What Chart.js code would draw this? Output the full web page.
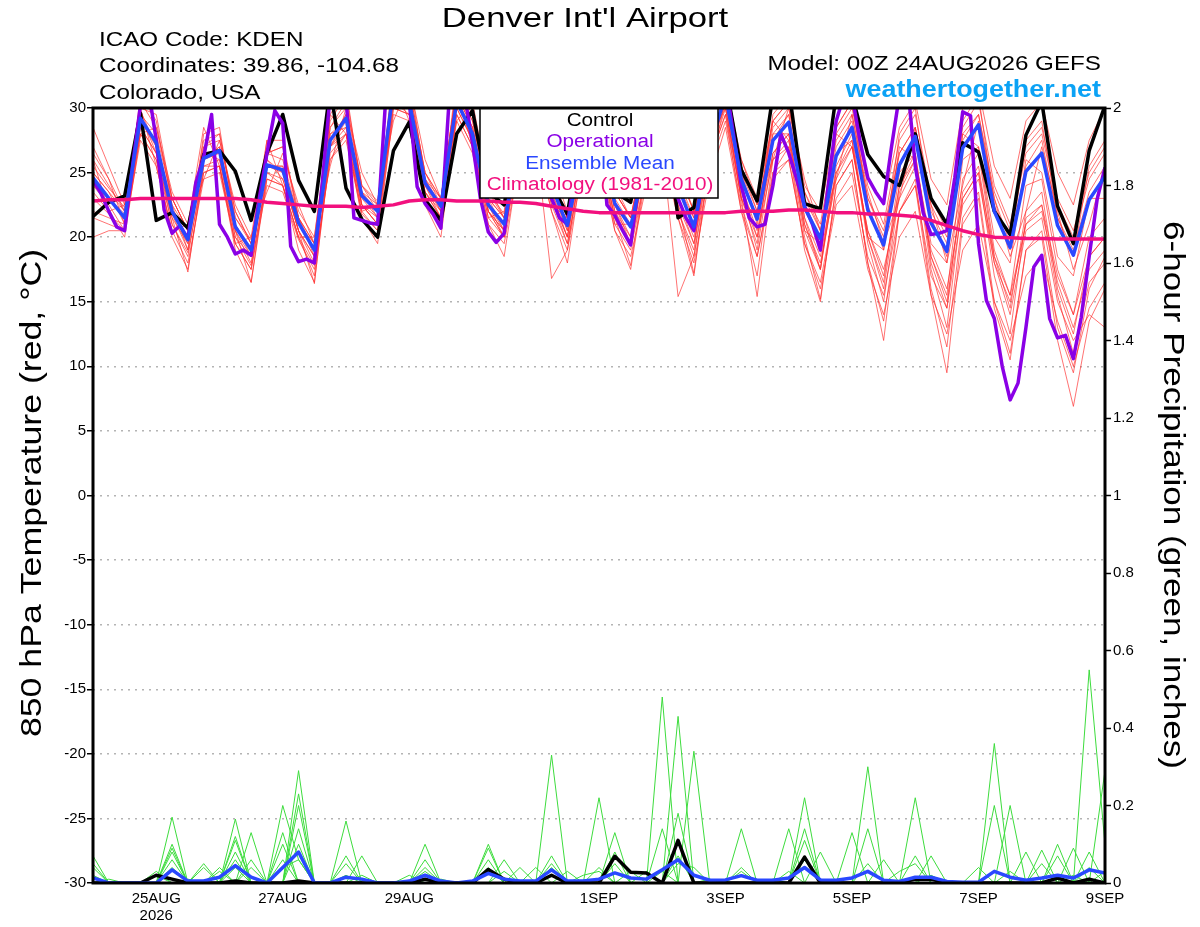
<!DOCTYPE html>
<html>
<head>
<meta charset="utf-8">
<title>Denver Int'l Airport - GEFS meteogram</title>
<script src="https://cdn.jsdelivr.net/npm/chart.js@4.4.1/dist/chart.umd.min.js"></script>
<style>
  html, body { margin: 0; padding: 0; background: #fff; }
  #wrap { width: 1200px; height: 927px; }
</style>
</head>
<body>
<div id="wrap"><canvas id="myChart" width="1200" height="927"></canvas></div>
<script>
'use strict'

// time steps: ensemble every 6 h, operational run every 3 h (hours after 00Z 24AUG2026)
const stepHours = 6;
const opStepHours = 3;

// x axis labels (hour of forecast -> label)
const xTickHours = [24, 72, 120, 192, 240, 288, 336, 384];
const xTickLabels = [['25AUG', '2026'], '27AUG', '29AUG', '1SEP', '3SEP', '5SEP', '7SEP', '9SEP'];
const tempTicks = [-30, -25, -20, -15, -10, -5, 0, 5, 10, 15, 20, 25, 30];
const precipTicks = [0, 0.2, 0.4, 0.6, 0.8, 1, 1.2, 1.4, 1.6, 1.8, 2];

// legend text
const legendItems = ['Control', 'Operational', 'Ensemble Mean', 'Climatology (1981-2010)'];

// 850 hPa temperature, deg C, every 6 h
const controlTemp = [21.6,22.7,23.2,29.6, 21.3,21.9,20.7,26.4, 26.7,25.1,21.3,26.5, 29.5,24.4,22.0,31.5, 23.8,21.4,20.0,26.7, 28.9,22.9,21.3,28.0, 29.8,23.5,22.5,29.0, 31.0,24.0,21.8,29.0, 28.0,23.5,22.7,29.0, 31.0,21.5,22.3,30.5, 32.0,25.2,22.8,31.0, 31.5,22.6,22.2,31.0, 31.0,26.4,24.7,24.0, 28.0,23.0,21.0,27.3, 26.6,22.0,20.2,27.9, 30.5,22.4,19.5,26.7, 30.2];
const meanTemp = [24.6,23.0,21.5,29.2, 27.3,22.0,19.8,26.1, 26.7,20.8,19.0,25.6, 25.2,21.1,19.0,27.5, 29.2,23.2,22.0,31.5, 30.5,24.2,22.4,30.5, 28.0,22.5,21.0,27.5, 28.5,24.0,20.9,27.0, 28.0,22.6,20.8,26.2, 28.5,23.9,20.8,27.0, 31.0,24.5,21.4,27.5, 28.9,22.3,19.9,26.3, 28.5,22.1,19.4,25.6, 27.8,21.1,18.9,26.9, 28.7,22.0,19.2,25.1, 26.5,20.9,18.6,22.9, 24.7];
const climoTemp = [22.8,22.9,22.9,23.0, 23.0,23.0,23.0,23.0, 23.0,23.0,22.9,22.7, 22.6,22.5,22.4,22.4, 22.4,22.3,22.4,22.5, 22.8,22.9,22.9,22.8, 22.8,22.8,22.7,22.7, 22.6,22.4,22.2,22.0, 21.9,21.9,21.9,21.9, 21.9,21.9,21.9,21.9, 21.9,22.0,22.0,22.0, 22.1,22.1,22.0,21.9, 21.9,21.8,21.8,21.7, 21.6,21.3,20.9,20.5, 20.2,20.0,19.95,19.9, 19.9,19.85,19.85,19.85, 19.85];

// operational run, every 3 h
const opTemp = [24.4,23.4,22.0,20.8,20.5,25.5,30.2,31.5, 27.5,22.1,20.3,20.9,19.9,24.2,26.2,29.5, 21.0,20.0,18.7,19.0,18.6,22.9,26.5,29.8, 28.8,19.3,18.1,18.3,18.0,24.2,31.0,32.0, 31.0,21.5,21.3,21.1,21.0,30.5,32.0,32.0, 30.5,23.9,22.6,21.8,20.7,30.2,32.0,31.0, 27.3,23.0,20.4,19.6,20.3,25.0,29.0,31.0, 31.0,27.0,23.0,21.5,21.0,25.0,29.0,31.0, 30.0,22.5,21.7,20.5,19.4,24.0,29.0,31.0, 31.0,26.0,23.0,21.5,20.5,24.0,29.0,31.0, 32.0,28.0,24.0,21.5,20.8,21.0,24.0,28.0, 26.5,24.5,22.4,21.0,19.0,24.0,29.0,31.0, 31.0,27.5,24.6,23.5,22.6,27.0,31.0,32.0, 25.5,21.9,20.2,20.3,20.5,24.6,29.7,29.4, 19.5,15.1,13.7,10.0,7.4,8.7,13.0,17.7, 18.6,13.7,12.2,12.4,10.6,13.8,18.5,22.9, 25.4];

// ensemble members (red), every 6 h
const member01 = [25.5,23.8,22.3,30.5, 28.5,23.0,20.5,27.5, 28.0,21.5,19.8,26.5, 27.0,22.0,20.0,29.0, 31.0,24.0,22.8,32.0, 31.5,25.0,23.0,31.5, 29.5,23.5,21.8,29.0, 30.0,25.0,21.5,28.5, 29.5,23.5,21.5,27.5, 30.0,25.0,22.0,28.5, 32.0,25.5,22.5,29.0, 30.5,23.5,21.0,28.0, 30.0,24.0,21.0,27.5, 29.5,23.0,20.5,28.5, 30.5,24.0,21.0,27.0, 28.5,23.0,20.5,25.0, 27.0];
const member02 = [23.0,21.8,20.5,27.5, 25.5,20.5,18.0,24.5, 25.0,19.5,17.5,24.0, 23.5,19.8,17.5,26.0, 27.5,21.8,20.5,29.5, 29.0,22.5,21.0,29.0, 26.5,21.0,19.5,26.0, 27.0,22.0,19.0,25.5, 26.0,20.5,18.5,24.0, 26.5,21.5,18.0,24.5, 28.5,22.0,18.5,24.5, 26.0,19.5,16.5,23.0, 25.0,18.5,15.5,22.0, 24.0,17.0,14.5,22.5, 24.5,18.0,15.0,21.0, 22.5,17.0,14.0,18.5, 20.0];
const member03 = [26.5,24.5,22.0,28.0, 28.5,23.5,21.0,24.5, 27.5,22.5,20.0,23.5, 26.5,22.5,19.5,25.5, 30.0,25.0,22.5,29.0, 32.0,26.0,23.0,29.0, 30.5,24.0,21.5,26.0, 29.5,25.5,22.0,25.0, 29.0,24.0,21.5,24.5, 29.5,25.5,22.0,25.5, 30.5,26.0,22.5,26.0, 30.0,24.5,20.5,24.5, 29.5,23.5,19.5,23.0, 28.5,22.5,18.0,24.0, 29.0,23.0,18.5,22.0, 27.0,22.0,17.5,21.0, 25.5];
const member04 = [22.0,21.5,21.0,29.5, 26.5,21.5,19.5,26.5, 26.0,20.0,18.5,26.0, 24.5,20.5,18.5,28.0, 28.5,22.5,21.5,31.0, 30.0,23.5,22.0,30.5, 27.5,22.0,20.5,28.0, 28.0,23.0,20.0,27.5, 27.0,21.5,19.5,26.5, 27.5,22.0,19.0,27.5, 30.0,23.0,19.5,28.0, 28.0,20.5,17.5,26.5, 27.5,20.0,16.5,25.0, 26.5,18.5,15.5,26.0, 27.0,19.0,15.5,24.0, 24.5,17.5,14.0,20.0, 21.5];
const member05 = [27.0,24.5,21.0,31.0, 29.0,22.5,19.0,28.0, 28.5,21.0,18.5,27.5, 27.5,21.5,18.5,29.5, 31.5,23.5,21.5,33.0, 32.5,24.5,22.0,32.5, 30.0,22.5,20.5,29.5, 30.5,24.0,20.5,29.0, 30.0,22.5,20.0,28.5, 30.5,24.0,20.5,29.0, 32.5,25.0,21.0,29.5, 31.0,22.5,19.5,28.5, 30.5,22.5,19.0,28.0, 30.0,21.5,18.5,29.0, 31.0,22.5,19.0,27.5, 29.0,21.5,18.5,25.5, 27.5];
const member06 = [24.0,22.5,20.5,28.5, 26.5,21.0,18.5,25.5, 25.5,19.5,17.5,25.0, 24.0,20.0,17.0,27.0, 28.0,22.0,20.5,30.5, 29.5,23.0,21.0,30.0, 27.5,21.5,20.0,27.0, 27.5,22.5,19.5,26.0, 26.5,21.0,19.0,25.0, 27.0,22.0,18.5,25.5, 29.0,22.5,18.5,25.0, 26.0,19.5,16.0,22.5, 24.0,17.5,14.0,20.0, 22.0,15.5,12.5,19.0, 21.0,15.0,12.0,17.0, 18.5,13.5,10.0,14.5, 16.5];
const member07 = [25.0,23.5,22.0,29.0, 27.5,22.5,20.5,26.0, 27.0,21.5,19.5,25.5, 25.5,21.5,19.5,27.0, 29.5,23.5,22.5,31.0, 30.5,24.5,23.0,30.5, 28.5,23.0,21.5,27.5, 29.0,24.5,21.5,27.0, 28.5,23.0,21.0,26.5, 29.0,24.0,21.5,27.5, 31.0,25.0,22.0,28.0, 29.5,23.0,20.5,27.0, 29.0,23.0,20.5,26.5, 28.5,22.5,20.0,28.0, 29.5,23.5,20.5,26.5, 28.0,22.5,20.0,24.5, 26.5];
const member08 = [23.5,22.0,20.0,28.0, 26.0,20.0,17.5,25.0, 25.5,19.0,16.5,24.5, 24.0,19.0,16.5,26.5, 28.0,21.5,19.5,30.0, 29.5,22.5,20.0,29.5, 27.0,21.0,18.5,26.5, 27.5,22.0,18.0,26.0, 27.0,20.5,17.5,25.0, 27.5,21.5,17.0,26.0, 29.5,22.0,17.0,26.0, 27.0,19.0,15.0,24.0, 26.0,18.0,13.5,22.0, 24.5,16.0,11.5,21.5, 23.5,15.0,11.0,19.0, 20.5,13.0,9.5,16.0, 18.5];
const member09 = [26.0,22.0,22.5,30.0, 25.5,20.5,21.0,28.5, 25.5,19.5,20.0,27.5, 24.0,20.0,20.0,29.5, 28.0,22.0,22.5,32.0, 29.0,23.0,23.0,31.5, 27.0,21.5,22.0,29.5, 27.5,22.5,21.5,29.0, 27.0,21.0,21.0,28.0, 27.5,22.0,21.0,29.0, 30.0,23.0,21.5,29.0, 27.5,20.5,19.5,28.0, 27.0,20.0,19.0,27.0, 26.0,19.5,18.0,28.0, 27.0,20.0,18.0,26.0, 25.0,18.5,17.0,23.0, 23.0];
const member10 = [24.0,23.0,21.8,29.8, 27.0,21.8,19.0,26.5, 26.5,20.5,18.0,26.0, 25.0,20.5,18.0,28.0, 29.0,22.5,21.0,31.5, 31.0,24.0,21.5,31.0, 28.5,22.0,20.0,28.0, 29.0,23.5,20.0,27.5, 28.5,22.0,19.5,26.5, 29.0,23.0,19.5,27.0, 31.5,24.0,20.0,27.5, 29.5,21.5,17.5,25.5, 28.0,20.0,16.0,24.0, 26.5,18.0,14.5,24.5, 26.5,18.5,14.5,22.0, 23.5,16.0,12.5,18.5, 20.0];
const member11 = [25.0,23.5,21.0,29.0, 27.5,22.0,20.0,26.0, 27.0,21.0,19.0,25.5, 25.5,21.0,19.5,27.5, 29.5,23.5,22.0,31.5, 31.0,24.5,22.5,31.0, 28.5,23.0,21.5,28.0, 29.5,24.5,21.5,28.0, 29.0,23.5,21.5,27.5, 29.5,25.0,22.0,28.0, 32.0,26.0,23.0,29.0, 30.5,24.0,22.0,28.5, 30.5,24.5,22.5,28.5, 30.5,24.5,22.5,30.0, 31.5,25.5,23.0,29.0, 30.5,25.0,22.5,27.5, 30.0];
const member12 = [21.5,21.0,20.5,28.0, 26.0,21.0,18.8,25.0, 25.5,20.0,17.8,24.5, 24.0,20.0,17.8,26.0, 28.0,22.5,21.0,30.0, 29.5,23.5,21.5,29.5, 27.0,22.0,20.0,26.5, 27.5,23.0,19.5,26.0, 27.0,21.5,19.5,25.0, 27.5,22.5,19.5,26.0, 29.5,23.0,20.0,26.0, 27.5,21.0,18.0,24.5, 27.0,20.5,17.5,23.0, 25.5,19.0,16.0,23.0, 25.0,18.5,15.5,21.0, 22.0,16.5,13.0,17.5, 19.0];
const member13 = [28.5,25.5,22.5,30.0, 29.5,23.0,20.5,27.0, 28.0,22.0,19.5,26.5, 27.0,21.5,19.0,28.5, 30.5,24.0,22.0,32.0, 31.5,25.0,22.5,31.5, 29.0,23.0,20.5,28.0, 27.5,16.8,19.0,27.0, 28.5,22.5,19.5,26.0, 27.0,15.4,18.5,26.5, 30.5,23.0,15.4,25.0, 27.0,20.0,15.2,24.0, 26.0,18.0,12.0,22.0, 24.0,15.5,9.5,21.0, 23.0,14.5,10.5,19.0, 20.0,12.0,6.9,13.5, 16.0];
const member14 = [20.0,20.5,20.5,28.5, 26.5,21.5,17.3,25.5, 26.0,20.5,16.5,25.0, 24.5,20.5,16.4,27.0, 28.5,22.5,21.0,30.5, 30.0,23.5,21.5,30.0, 27.5,22.5,20.0,27.0, 28.0,23.0,20.0,26.5, 27.5,21.5,17.8,25.5, 28.0,22.5,17.2,26.0, 30.0,23.5,19.0,26.5, 28.0,21.0,17.5,25.0, 27.5,19.5,15.0,23.5, 26.0,17.5,13.0,23.0, 25.0,17.0,12.5,21.5, 22.5,15.5,11.0,16.5, 18.0];
const member15 = [26.0,24.0,22.0,29.5, 28.0,23.0,20.5,27.0, 27.5,22.0,19.5,26.5, 26.0,21.5,19.5,28.5, 30.0,24.0,22.5,32.0, 31.0,25.0,23.0,31.5, 29.0,23.5,21.5,28.5, 29.5,24.5,21.5,28.0, 29.0,23.5,21.5,27.0, 29.5,24.5,21.5,28.0, 31.5,25.5,22.0,28.5, 30.0,23.5,20.5,27.5, 29.5,23.0,20.0,26.5, 28.5,22.0,19.5,27.5, 29.5,23.0,19.5,25.5, 27.5,21.5,19.0,23.5, 25.5];
const member16 = [24.5,23.0,21.5,29.0, 27.0,22.0,19.5,26.0, 26.5,20.5,18.5,25.5, 25.0,20.5,18.5,27.0, 29.0,23.0,21.5,31.0, 30.5,24.0,22.0,30.5, 28.0,22.0,20.5,27.5, 28.5,23.5,20.5,27.0, 28.0,22.0,20.0,26.0, 28.0,23.0,20.0,26.5, 30.5,24.0,20.5,26.5, 28.0,21.5,18.5,25.0, 27.0,20.5,17.0,24.0, 26.0,18.5,15.0,23.5, 25.5,18.0,14.0,20.5, 21.5,15.0,12.0,14.0, 13.0];

// 6-hour precipitation, inches, every 6 h
const controlPrecip = [0,0,0,0, 0.02,0.01,0,0, 0,0.005,0,0, 0,0.005,0,0, 0,0,0,0, 0,0.01,0,0, 0,0.035,0.01,0, 0,0.02,0,0, 0,0.069,0.028,0.026, 0,0.11,0,0, 0,0,0,0, 0,0.067,0,0, 0,0,0,0, 0.01,0.01,0,0, 0,0,0,0, 0,0.013,0,0.01, 0];
const meanPrecip = [0.013,0,0,0, 0,0.034,0.005,0.005, 0.015,0.045,0.015,0, 0.04,0.08,0,0, 0.015,0.01,0,0, 0.005,0.02,0.005,0, 0.005,0.025,0.01,0.005, 0.005,0.034,0.005,0.005, 0.01,0.026,0.013,0.01, 0.034,0.06,0.02,0.007, 0.008,0.019,0.007,0.007, 0.013,0.04,0.008,0.007, 0.013,0.03,0.007,0.004, 0.015,0.015,0.004,0.002, 0.002,0.03,0.015,0.007, 0.013,0.02,0.013,0.034, 0.026];

// precip members (green)
const precip01 = [0.07,0,0,0, 0,0.17,0,0, 0,0.04,0,0, 0,0.29,0,0, 0.02,0,0,0, 0,0,0,0, 0,0,0,0, 0,0.33,0,0, 0,0,0,0, 0.48,0,0,0, 0,0,0,0, 0,0.06,0,0, 0,0,0,0, 0,0,0,0, 0,0.36,0,0, 0,0,0,0.55, 0.1];
const precip02 = [0.05,0,0,0, 0,0.1,0,0, 0,0.165,0,0, 0.2,0.06,0,0, 0,0,0,0, 0,0.1,0,0, 0,0,0,0, 0,0,0,0, 0.22,0,0,0, 0,0.43,0,0, 0,0,0,0, 0,0,0,0, 0,0.3,0,0, 0,0,0,0, 0,0,0.2,0, 0,0,0,0, 0.29];
const precip03 = [0,0,0,0, 0,0.09,0,0, 0,0,0.13,0, 0,0.23,0,0, 0.16,0,0,0, 0,0,0,0, 0,0.1,0,0, 0,0,0,0, 0,0.13,0,0, 0,0,0.34,0, 0,0,0,0, 0,0.22,0,0, 0,0,0,0, 0.22,0,0,0, 0,0.2,0,0, 0,0.1,0,0, 0];
const precip04 = [0.04,0,0,0, 0,0.08,0,0, 0,0.12,0,0, 0,0.2,0,0, 0,0.07,0,0, 0,0,0,0, 0,0,0.06,0, 0,0,0,0, 0,0,0,0, 0,0.18,0,0, 0,0.14,0,0, 0,0,0,0, 0.13,0,0,0, 0,0,0,0, 0,0,0,0, 0.085,0,0,0.08, 0];
const precip05 = [0,0,0,0, 0.02,0,0,0, 0,0.11,0,0, 0.13,0,0,0, 0,0,0,0, 0,0.06,0,0, 0,0.09,0,0, 0,0.07,0,0, 0,0,0,0, 0.14,0,0,0, 0,0,0,0, 0.14,0,0,0, 0,0.14,0,0, 0,0,0,0, 0,0,0,0, 0,0,0.09,0, 0];
const precip06 = [0,0,0,0, 0,0.06,0,0.05, 0,0,0,0, 0,0.14,0,0, 0.07,0,0,0, 0,0,0,0, 0,0.06,0,0, 0,0,0,0, 0,0.08,0,0, 0,0.07,0,0, 0,0,0,0, 0,0.14,0,0, 0,0,0,0, 0,0.07,0,0, 0,0,0.03,0, 0,0.07,0,0, 0];
const precip07 = [0,0,0,0, 0,0.04,0,0, 0.04,0,0.06,0, 0.1,0,0,0, 0,0,0,0, 0,0.04,0,0, 0,0,0,0, 0.04,0,0,0, 0.04,0,0,0, 0,0,0,0, 0,0,0,0, 0,0.11,0,0, 0,0,0.06,0, 0,0,0,0, 0,0,0,0.08, 0,0,0,0.04, 0];
const precip08 = [0.02,0,0,0, 0,0,0,0, 0,0.08,0,0, 0,0.1,0,0, 0,0.02,0,0, 0,0,0,0, 0,0,0,0.04, 0,0.05,0,0, 0,0.05,0,0, 0.03,0,0,0, 0,0,0,0, 0,0,0.08,0, 0,0,0,0, 0.07,0,0,0, 0,0,0,0, 0.05,0,0,0, 0];
const precip09 = [0,0.01,0,0, 0,0,0,0.04, 0,0,0.04,0, 0.06,0,0,0, 0,0,0,0, 0,0.03,0,0, 0,0,0.03,0, 0,0,0.03,0, 0,0,0,0.03, 0,0,0,0, 0,0.04,0,0, 0,0,0,0, 0,0.05,0,0, 0,0,0,0, 0.04,0,0,0, 0,0,0,0, 0.03];
const precip10 = [0,0,0,0, 0.03,0,0,0, 0,0.06,0,0, 0.04,0.06,0,0, 0,0,0,0, 0.02,0,0,0, 0,0.04,0,0, 0,0.04,0,0, 0,0,0.03,0, 0,0.05,0.04,0, 0,0.03,0,0, 0.03,0,0,0, 0,0,0,0.03, 0.05,0,0,0, 0,0,0,0, 0,0,0,0, 0];
const precip11 = [0,0,0,0, 0,0,0.01,0, 0.03,0,0,0, 0,0,0,0, 0.05,0,0,0, 0,0,0.01,0, 0,0,0,0, 0,0,0,0.02, 0.03,0,0,0, 0,0,0,0.01, 0,0,0,0.01, 0,0,0,0, 0,0,0,0, 0,0.02,0,0, 0,0,0,0, 0,0,0.02,0, 0];

const tempMembers = [member01, member02, member03, member04, member05, member06, member07, member08,
  member09, member10, member11, member12, member13, member14, member15, member16];
const precipMembers = [precip01, precip02, precip03, precip04, precip05, precip06, precip07, precip08,
  precip09, precip10, precip11];

// colours
const colorControl = '#000000';
const colorOp = '#8a00e6';
const colorMean = '#2a48ff';
const colorClimo = '#f2107e';
const colorMember = 'rgba(255,45,45,0.75)';
const colorPrecip = '#3ddc3d';
const legendColors = [colorControl, colorOp, colorMean, colorClimo];

const fontFamily = '"Liberation Sans", Arial, Helvetica, sans-serif';

// turns a value list into {x: hour, y: value} points
function toPoints(values, step) {
  return values.map((v, i) => ({ x: i * step, y: v }));
}

function lineSet(values, step, color, width, axis) {
  return {
    data: toPoints(values, step),
    borderColor: color,
    borderWidth: width,
    yAxisID: axis,
    pointRadius: 0,
    tension: 0,
    fill: false,
    clip: 0,
    borderJoinStyle: 'round'
  };
}

// the original lettering is wide, so text gets stretched horizontally a bit
function wideText(ctx, text, x, y, align, sx, angle) {
  ctx.save();
  ctx.translate(x, y);
  if (angle) ctx.rotate(angle);
  ctx.scale(sx, 1);
  ctx.textAlign = align;
  ctx.fillText(text, 0, 0);
  ctx.restore();
}

// datasets listed top-most first (chart.js paints index 0 last)
let datasets = [];
datasets.push(lineSet(climoTemp, stepHours, colorClimo, 3.5, 'y'));
datasets.push(lineSet(meanTemp, stepHours, colorMean, 3.5, 'y'));
datasets.push(lineSet(opTemp, opStepHours, colorOp, 3.5, 'y'));
datasets.push(lineSet(controlTemp, stepHours, colorControl, 3.5, 'y'));
datasets.push(lineSet(meanPrecip, stepHours, colorMean, 3.5, 'y1'));
datasets.push(lineSet(controlPrecip, stepHours, colorControl, 3.5, 'y1'));
for (let i = 0; i < precipMembers.length; i++) {
  datasets.push(lineSet(precipMembers[i], stepHours, colorPrecip, 1, 'y1'));
}
for (let i = 0; i < tempMembers.length; i++) {
  datasets.push(lineSet(tempMembers[i], stepHours, colorMember, 0.9, 'y'));
}

// legend box, frame and all the header texts
const decorPlugin = {
  id: 'decor',
  afterDatasetsDraw(chart) {
    const ctx = chart.ctx;
    const a = chart.chartArea;
    ctx.save();
    // legend
    ctx.fillStyle = '#ffffff';
    ctx.fillRect(480, a.top, 238, 90);
    ctx.strokeStyle = '#000';
    ctx.lineWidth = 1.5;
    ctx.strokeRect(480, a.top, 238, 90);
    ctx.font = '18px ' + fontFamily;
    ctx.textBaseline = 'middle';
    for (let i = 0; i < legendItems.length; i++) {
      ctx.fillStyle = legendColors[i];
      wideText(ctx, legendItems[i], 600, a.top + 13 + i * 21.4, 'center', 1.15);
    }
    // plot frame
    ctx.strokeStyle = '#000';
    ctx.lineWidth = 3;
    ctx.strokeRect(a.left, a.top, a.right - a.left, a.bottom - a.top);
    ctx.restore();
  },
  afterDraw(chart) {
    const ctx = chart.ctx;
    ctx.save();
    ctx.fillStyle = '#000';
    ctx.textBaseline = 'middle';

    ctx.font = '28px ' + fontFamily;
    wideText(ctx, "Denver Int'l Airport", 585, 19, 'center', 1.24);

    ctx.font = '20px ' + fontFamily;
    wideText(ctx, 'ICAO Code: KDEN', 99, 40, 'left', 1.21);
    wideText(ctx, 'Coordinates: 39.86, -104.68', 99, 66, 'left', 1.21);
    wideText(ctx, 'Colorado, USA', 99, 93, 'left', 1.21);
    wideText(ctx, 'Model: 00Z 24AUG2026 GEFS', 1101, 64, 'right', 1.21);

    ctx.font = 'bold 24px ' + fontFamily;
    ctx.fillStyle = '#0ba2f5';
    wideText(ctx, 'weathertogether.net', 1101, 90, 'right', 1.12);

    // axis titles
    ctx.fillStyle = '#000';
    ctx.font = '29px ' + fontFamily;
    wideText(ctx, '850 hPa Temperature (red, \u00B0C)', 33, 493, 'center', 1.23, -Math.PI / 2);
    wideText(ctx, '6-hour Precipitation (green, inches)', 1172, 495, 'center', 1.21, Math.PI / 2);

    ctx.restore();
  }
};

const config = {
  type: 'line',
  data: { datasets: datasets },
  options: {
    responsive: false,
    animation: false,
    events: [],
    layout: { padding: { top: 108, left: 0, right: 0, bottom: 0 } },
    plugins: { legend: { display: false }, tooltip: { enabled: false }, title: { display: false } },
    scales: {
      x: {
        type: 'linear',
        min: 0,
        max: 384,
        afterBuildTicks: (scale) => { scale.ticks = xTickHours.map(v => ({ value: v })); },
        afterFit: (scale) => { scale.height = 44; },
        ticks: {
          autoSkip: false,
          maxRotation: 0,
          padding: 8,
          color: '#000',
          font: { family: fontFamily, size: 15, lineHeight: 1.1 },
          callback: (value, index) => xTickLabels[index]
        },
        grid: { display: false, drawTicks: false, tickLength: 0 },
        border: { display: false }
      },
      y: {
        position: 'left',
        min: -30,
        max: 30,
        afterBuildTicks: (scale) => { scale.ticks = tempTicks.map(v => ({ value: v })); },
        afterFit: (scale) => { scale.width = 93; },
        ticks: { padding: 1, color: '#000', font: { family: fontFamily, size: 15 } },
        grid: { color: '#b4b4b4', lineWidth: 1.5, tickLength: 6, tickColor: '#000', tickWidth: 1.5, tickBorderDash: [] },
        border: { display: false, dash: [2, 5] }
      },
      y1: {
        position: 'right',
        min: 0,
        max: 2,
        afterBuildTicks: (scale) => { scale.ticks = precipTicks.map(v => ({ value: v })); },
        afterFit: (scale) => { scale.width = 95; },
        ticks: { padding: 2, color: '#000', font: { family: fontFamily, size: 15 }, callback: (value) => String(value) },
        grid: { drawOnChartArea: false, tickLength: 6, tickColor: '#000', tickWidth: 1.5 },
        border: { display: false }
      }
    }
  },
  plugins: [decorPlugin]
};

let canvasChart = document.getElementById('myChart');
const myChart = new Chart(canvasChart, config);
</script>
</body>
</html>
